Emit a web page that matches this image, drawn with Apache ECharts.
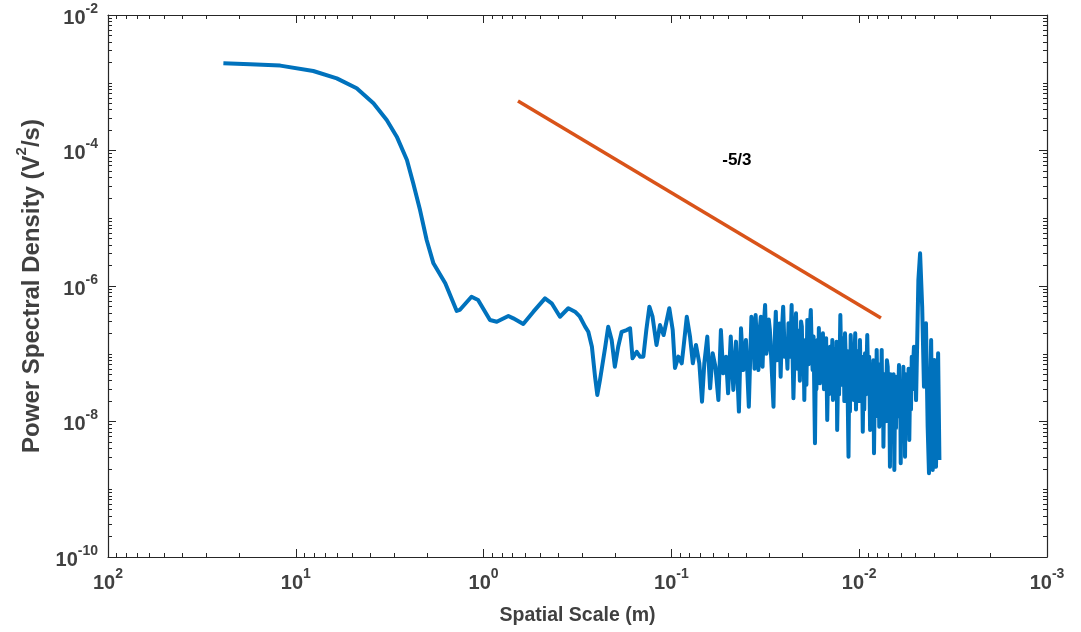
<!DOCTYPE html>
<html>
<head>
<meta charset="utf-8">
<title>Power Spectral Density</title>
<script src="https://cdn.jsdelivr.net/npm/echarts@6/dist/echarts.min.js"></script>
<style>
html,body{margin:0;padding:0;background:#fff;}
#main{width:1081px;height:632px;}
</style>
</head>
<body>
<div id="main"></div>
<script>
// spatial scale (m)
var scale = [24.3, 17.5, 12.1, 8.07, 6.05, 4.74, 3.86, 3.28, 2.90, 2.56, 2.37, 2.18, 2.01, 1.85, 1.60, 1.39, 1.34, 1.16, 1.07, 0.925,
  0.851, 0.738, 0.695, 0.615, 0.543, 0.471, 0.434, 0.392, 0.354, 0.326, 0.307, 0.288, 0.277, 0.265, 0.255, 0.248, 0.240, 0.225, 0.217, 0.208,
  0.200, 0.192, 0.184, 0.173, 0.166, 0.161, 0.153, 0.147, 0.141, 0.136, 0.131, 0.126, 0.120, 0.115, 0.110, 0.1026, 0.0984, 0.0957, 0.0918, 0.0881,
  0.0863, 0.0828, 0.0796, 0.0769, 0.0740, 0.0710, 0.0687, 0.0668, 0.0644, 0.0622, 0.0603, 0.0583, 0.0562, 0.0545, 0.0530, 0.0512, 0.0499, 0.0483, 0.0468, 0.0453,
  0.0437, 0.0426, 0.0414, 0.0401, 0.0387,
  0.0375, 0.0366, 0.0361, 0.0356, 0.0350, 0.0344, 0.0339, 0.0334, 0.0327, 0.0322,
  0.0317, 0.0312, 0.0308, 0.0303, 0.0299, 0.0286, 0.0282, 0.0278, 0.0274, 0.0270,
  0.0266, 0.0262, 0.0258, 0.0254, 0.0249, 0.0245, 0.0241, 0.0238, 0.0233, 0.0229,
  0.0224, 0.0220, 0.0217, 0.0214, 0.0212, 0.0209, 0.0207, 0.0204, 0.0202, 0.0200,
  0.0198, 0.0196, 0.0194, 0.0191, 0.0189, 0.0186, 0.0183, 0.0181, 0.0179, 0.0177,
  0.0175, 0.0172, 0.0170, 0.0169, 0.0167, 0.0165, 0.0164, 0.0162, 0.0160, 0.0158,
  0.0156, 0.0154, 0.0152, 0.0151, 0.0150, 0.0148, 0.0146, 0.0145, 0.0143, 0.0141,
  0.0139, 0.0138, 0.0137, 0.0135, 0.0133, 0.0132, 0.0131, 0.0129, 0.0128, 0.0126,
  0.0124, 0.0123, 0.0122, 0.0121, 0.0120, 0.0119, 0.0117, 0.0116, 0.0114, 0.0113,
  0.0112, 0.0111, 0.0109, 0.0108, 0.0107, 0.0106, 0.0105, 0.0104, 0.0103, 0.0102,
  0.0101, 0.0100, 0.00991, 0.00980, 0.00968, 0.00957, 0.00948, 0.00940, 0.00931, 0.00922,
  0.00914, 0.00906, 0.00896, 0.00885, 0.00875, 0.00868, 0.00861, 0.00855, 0.00848, 0.00841,
  0.00834, 0.00825, 0.00816, 0.00807, 0.00798, 0.00790, 0.00782, 0.00774, 0.00767, 0.00759,
  0.00754, 0.00748, 0.00743, 0.00735, 0.00727, 0.00719, 0.00712, 0.00705, 0.00698, 0.00692,
  0.00686, 0.00680, 0.00673, 0.00667, 0.00661, 0.00656, 0.00650, 0.00644, 0.00637, 0.00631,
  0.00623, 0.00614, 0.00610, 0.00605, 0.00601, 0.00595, 0.00588, 0.00582, 0.00578, 0.00574,
  0.00570, 0.00565, 0.00560, 0.00555, 0.00550, 0.00546, 0.00541, 0.00535, 0.00530, 0.00525,
  0.00520, 0.00515, 0.00511, 0.00506, 0.00502, 0.00498, 0.00484, 0.00474, 0.00462, 0.00452,
  0.00441, 0.00432, 0.00425, 0.00414, 0.00406, 0.00398, 0.00390, 0.00380, 0.00374];
// power spectral density (V^2/s)
var psd = [1.94e-3, 1.87e-3, 1.79e-3, 1.49e-3, 1.16e-3, 8.28e-4, 4.98e-4, 2.82e-4, 1.60e-4, 7.24e-5, 3.28e-5, 1.32e-5, 4.78e-6, 2.16e-6, 1.10e-6, 4.28e-7, 4.43e-7, 6.95e-7, 6.21e-7, 3.15e-7,
  2.97e-7, 3.61e-7, 3.33e-7, 2.75e-7, 4.18e-7, 6.58e-7, 5.56e-7, 3.52e-7, 4.69e-7, 4.18e-7, 3.52e-7, 2.51e-7, 2.11e-7, 1.27e-7, 4.58e-8, 2.46e-8, 4.10e-8, 1.27e-7, 2.51e-7, 1.60e-7,
  6.44e-8, 1.27e-7, 2.11e-7, 2.24e-7, 2.38e-7, 8.57e-8, 1.07e-7, 9.06e-8, 9.06e-8, 2.24e-7, 4.95e-7, 3.52e-7, 1.35e-7, 2.65e-7, 1.89e-7, 4.69e-7, 2.24e-7, 6.17e-8, 9.06e-8, 7.23e-8,
  1.20e-7, 3.52e-7, 1.79e-7, 7.23e-8, 1.35e-7, 7.23e-8, 1.96e-8, 7.23e-8, 1.79e-7, 3.09e-8, 1.02e-7, 6.44e-8, 2.07e-8, 2.24e-7, 5.14e-8, 9.06e-8, 2.61e-8, 1.79e-7, 2.92e-8, 1.51e-7,
  1.40e-8, 2.38e-7, 5.75e-8, 1.60e-7, 1.65e-8,
  3.52e-7, 2.24e-7, 6.0e-8, 3.73e-7, 1.2e-7, 5.75e-8, 2.2e-7, 3.52e-7, 6.44e-8, 2.6e-7,
  5.25e-7, 1.0e-7, 1.27e-7, 3.2e-7, 2.24e-7, 1.65e-8, 1.5e-7, 4.18e-7, 8.0e-8, 1.27e-7,
  2.8e-7, 4.58e-8, 2.2e-7, 4.95e-7, 9.0e-8, 1.60e-7, 6.0e-8, 2.81e-7, 9.0e-8, 5.25e-7,
  2.20e-8, 1.6e-7, 3.95e-7, 6.0e-8, 2.2e-7, 1.27e-7, 4.0e-8, 3.0e-7, 2.51e-7, 5.0e-8,
  1.6e-7, 2.07e-8, 1.4e-7, 3.5e-8, 3.15e-7, 7.0e-8, 2.6e-7, 4.43e-7, 1.2e-7, 5.75e-8,
  1.8e-7, 4.76e-9, 9.0e-8, 3.0e-8, 1.60e-7, 4.5e-8, 2.4e-7, 3.66e-8, 1.3e-7, 4.0e-8,
  2.00e-7, 3.0e-8, 1.5e-7, 6.44e-8, 1.7e-7, 1.05e-8, 9.0e-8, 2.5e-8, 1.27e-7, 3.0e-8,
  1.6e-7, 2.07e-8, 1.2e-7, 8.09e-8, 2.5e-8, 1.5e-7, 7.50e-9, 1.0e-7, 2.5e-8, 3.73e-7,
  3.5e-8, 1.5e-7, 5.14e-8, 1.7e-7, 2.0e-8, 2.00e-7, 4.0e-8, 1.1e-7, 3.02e-9, 6.0e-8,
  1.4e-8, 1.89e-7, 3.0e-8, 1.2e-7, 2.07e-8, 9.0e-8, 2.00e-7, 1.5e-8, 8.0e-8, 2.32e-8,
  1.1e-7, 2.0e-8, 1.60e-7, 3.0e-8, 9.0e-8, 7.08e-9, 6.0e-8, 1.5e-8, 1.02e-7, 2.5e-8,
  6.0e-8, 1.89e-7, 4.0e-8, 9.0e-8, 7.50e-9, 7.0e-8, 1.5e-8, 4.10e-8, 1.0e-8, 8.0e-8,
  3.40e-9, 4.0e-8, 1.2e-8, 1.14e-7, 2.0e-8, 7.0e-8, 8.38e-9, 6.0e-8, 1.5e-8, 1.14e-7,
  2.0e-8, 5.0e-8, 4.25e-9, 5.0e-8, 1.0e-8, 2.32e-8, 8.0e-8, 6.44e-8, 1.0e-8, 4.0e-8,
  2.15e-9, 5.0e-8, 1.0e-8, 3.66e-8, 8.0e-9, 5.0e-8, 1.92e-9, 2.5e-8, 8.0e-9, 4.58e-8,
  1.2e-8, 6.82e-8, 1.5e-8, 4.0e-8, 2.42e-9, 4.0e-8, 1.0e-8, 6.44e-8, 1.5e-8, 4.5e-8,
  3.02e-9, 5.0e-8, 1.2e-8, 3.66e-8, 1.0e-8, 6.0e-8, 5.33e-9, 5.0e-8, 1.5e-8, 9.06e-8,
  3.0e-8, 8.0e-8, 1.27e-7, 3.0e-8, 7.0e-8, 2.07e-8, 1.23e-6, 3.04e-6, 4.95e-7, 3.27e-8,
  2.81e-7, 8.38e-9, 1.72e-9, 1.60e-7, 1.92e-9, 8.09e-8, 2.15e-9, 1.02e-7, 2.70e-9];
// -5/3 reference line end points
var slopeScale = [0.656, 0.00766];
var slopePsd = [5.38e-4, 3.37e-7];
var slopeText = '-5/3';
var slopeTextAt = [0.0448, 7.24e-5];
// major ticks (labelled) and minor-tick layout
var xMajor = [1e2, 1e1, 1e0, 1e-1, 1e-2, 1e-3];
var yMajor = [1e-2, 1e-4, 1e-6, 1e-8, 1e-10];
var xDecades = [1e-3, 1e-2, 1e-1, 1e0, 1e1];
var yDecades = [1e-10, 1e-9, 1e-8, 1e-7, 1e-6, 1e-5, 1e-4, 1e-3];
var minorMult = [2, 3, 4, 5, 6, 7, 8, 9];

var font = 'Liberation Sans, Arial, Helvetica, sans-serif';
var axisColor = '#262626';
var textColor = '#404040';

function minorValues(decades, majors){
  var out = [];
  decades.forEach(function(d){
    if (majors.indexOf(d) < 0) out.push(d);
    minorMult.forEach(function(m){ out.push(d * m); });
  });
  return out;
}
var xMinor = minorValues(xDecades, xMajor);
var yMinor = minorValues(yDecades, yMajor);

function expLabel(v){
  var e = Math.round(Math.log(v) / Math.LN10);
  return '{b|10}{s|' + e + '}';
}
var labelRich = {
  b:{fontSize:20, fontWeight:'bold', color:textColor, fontFamily:font, lineHeight:26, verticalAlign:'bottom'},
  s:{fontSize:14, fontWeight:'bold', color:textColor, fontFamily:font, lineHeight:16, verticalAlign:'top'}
};

function logAxis(pos, min, max, inv, ticks, tickLen, withLine, withLabel){
  return {
    type:'log', logBase:10, position:pos, min:min, max:max, inverse:inv,
    axisLine:{show:withLine, onZero:false, lineStyle:{color:axisColor, width:1.2}},
    axisTick:{show:true, inside:true, length:tickLen, customValues:ticks, lineStyle:{color:axisColor, width:1}},
    minorTick:{show:false},
    splitLine:{show:false},
    axisLabel:{show:withLabel, margin:10, customValues:ticks, formatter:expLabel, rich:labelRich}
  };
}

var xBottom = logAxis('bottom', 1e-3, 1e2, true, xMajor, 8, true, true);
xBottom.name = 'Spatial Scale (m)';
xBottom.nameLocation = 'middle';
xBottom.nameGap = 49;
xBottom.nameTextStyle = {fontSize:19.5, fontWeight:'bold', color:textColor, fontFamily:font};
var xTop = logAxis('top', 1e-3, 1e2, true, xMajor, 8, true, false);
var xBottomMinor = logAxis('bottom', 1e-3, 1e2, true, xMinor, 4, false, false);
var xTopMinor = logAxis('top', 1e-3, 1e2, true, xMinor, 4, false, false);

var yLeft = logAxis('left', 1e-10, 1e-2, false, yMajor, 8, true, true);
yLeft.name = '{n|Power Spectral Density (V}{s|2}{n|/s)}';
yLeft.nameLocation = 'middle';
yLeft.nameGap = 60;
yLeft.nameRotate = 90;
yLeft.nameTextStyle = {
  rich:{
    n:{fontSize:24, fontWeight:'bold', color:textColor, fontFamily:font, lineHeight:30, verticalAlign:'bottom'},
    s:{fontSize:15, fontWeight:'bold', color:textColor, fontFamily:font, lineHeight:17, verticalAlign:'top'}
  }
};
var yRight = logAxis('right', 1e-10, 1e-2, false, yMajor, 8, true, false);
var yLeftMinor = logAxis('left', 1e-10, 1e-2, false, yMinor, 4, false, false);
var yRightMinor = logAxis('right', 1e-10, 1e-2, false, yMinor, 4, false, false);

var chart = echarts.init(document.getElementById('main'), null, {renderer:'canvas'});
chart.setOption({
  animation:false,
  backgroundColor:'#fff',
  grid:{left:108, right:34, top:15, bottom:75, containLabel:false},
  xAxis:[xBottom, xTop, xBottomMinor, xTopMinor],
  yAxis:[yLeft, yRight, yLeftMinor, yRightMinor],
  series:[
    {
      name:'PSD', type:'line', xAxisIndex:0, yAxisIndex:0,
      data:scale.map(function(s, i){ return [s, psd[i]]; }),
      showSymbol:false, symbol:'none',
      lineStyle:{color:'#0072BD', width:4, join:'round'},
      z:2
    },
    {
      name:'slope', type:'line', xAxisIndex:0, yAxisIndex:0,
      data:slopeScale.map(function(s, i){ return [s, slopePsd[i]]; }),
      showSymbol:false, symbol:'none',
      lineStyle:{color:'#D95319', width:3.5},
      z:3,
      markPoint:{
        symbol:'rect', symbolSize:1,
        itemStyle:{color:'rgba(0,0,0,0)'},
        label:{show:true, position:'inside', formatter:slopeText, fontSize:17, fontWeight:'bold', color:'#000', fontFamily:font},
        data:[{coord:slopeTextAt}]
      }
    }
  ]
});
</script>
</body>
</html>
